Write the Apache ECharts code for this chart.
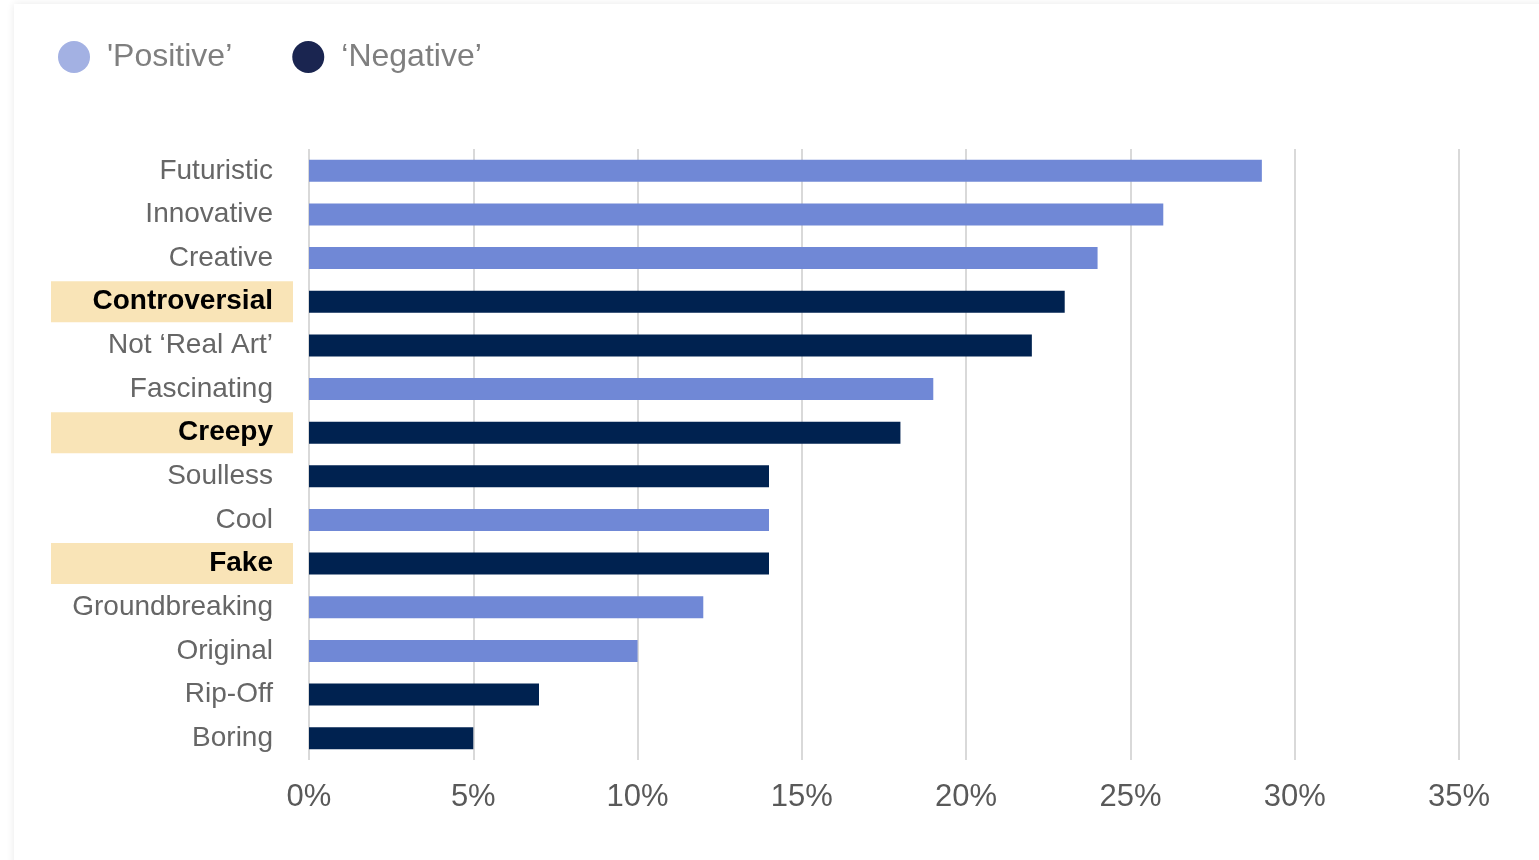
<!DOCTYPE html>
<html>
<head>
<meta charset="utf-8">
<script src="https://cdn.jsdelivr.net/npm/echarts@6/dist/echarts.min.js"></script>
<style>
  html, body { margin: 0; padding: 0; background: #fff; }
  .card {
    position: absolute; left: 14px; top: 4px; width: 1530px; height: 870px;
    background: #fff; box-shadow: 0 0 8px rgba(0,0,0,0.09);
  }
  #chart { position: absolute; left: 0; top: 0; width: 1539px; height: 860px; }
</style>
</head>
<body>
<div class="card"></div>
<div id="chart"></div>
<script>
  // categories, top to bottom
  const categories = ['Futuristic', 'Innovative', 'Creative', 'Controversial', 'Not \u2018Real Art\u2019',
    'Fascinating', 'Creepy', 'Soulless', 'Cool', 'Fake', 'Groundbreaking', 'Original', 'Rip-Off', 'Boring'];
  // share of respondents (%), null where the word belongs to the other group
  const positiveValues = [29, 26, 24, null, null, 19, null, null, 14, null, 12, 10, null, null];
  const negativeValues = [null, null, null, 23, 22, null, 18, 14, null, 14, null, null, 7, 5];
  const highlighted = ['Controversial', 'Creepy', 'Fake'];
  const tickValues = [0, 5, 10, 15, 20, 25, 30, 35];

  const font = 'Arial, "Liberation Sans", sans-serif';
  let myChart = echarts.init(document.getElementById('chart'));

  let option = {
    animation: false,
    legend: {
      left: 53,
      top: 36,
      icon: 'circle',
      itemWidth: 32,
      itemHeight: 32,
      itemGap: 60,
      textStyle: {
        fontFamily: font,
        fontSize: 32,
        color: '#7f7f7f',
        padding: [0, 0, 0, 12]
      },
      data: [
        { name: "'Positive\u2019", itemStyle: { color: '#A3B1E3' } },
        { name: '\u2018Negative\u2019', itemStyle: { color: '#1A2550' } }
      ]
    },
    grid: {
      left: 309,
      right: 80,
      top: 149,
      bottom: 100
    },
    xAxis: {
      type: 'value',
      min: tickValues[0],
      max: tickValues[tickValues.length - 1],
      interval: 5,
      axisLine: { show: false },
      axisTick: { show: false },
      splitLine: {
        show: true,
        lineStyle: { color: '#d9d9d9', width: 2 }
      },
      axisLabel: {
        margin: 22,
        fontFamily: font,
        fontSize: 31,
        color: '#595959',
        formatter: v => v + '%'
      }
    },
    yAxis: {
      type: 'category',
      inverse: true,
      data: categories,
      axisLine: { show: false },
      axisTick: { show: false },
      axisLabel: {
        margin: 16,
        fontFamily: font,
        formatter: v => highlighted.indexOf(v) >= 0 ? '{hl|' + v + '}' : '{n|' + v + '}',
        rich: {
          n: {
            fontFamily: font,
            fontSize: 28,
            color: '#666666',
            padding: [0, 20, 0, 0]
          },
          hl: {
            fontFamily: font,
            fontSize: 28,
            fontWeight: 'bold',
            color: '#000000',
            backgroundColor: '#F9E4B7',
            width: 222,
            height: 41,
            lineHeight: 41,
            align: 'right',
            padding: [0, 20, 0, 0]
          }
        }
      }
    },
    series: [
      {
        name: "'Positive\u2019",
        type: 'bar',
        barWidth: 22,
        barGap: '-100%',
        itemStyle: { color: '#7088D6' },
        data: positiveValues
      },
      {
        name: '\u2018Negative\u2019',
        type: 'bar',
        barWidth: 22,
        barGap: '-100%',
        itemStyle: { color: '#002250' },
        data: negativeValues
      }
    ]
  };

  myChart.setOption(option);
</script>
</body>
</html>
